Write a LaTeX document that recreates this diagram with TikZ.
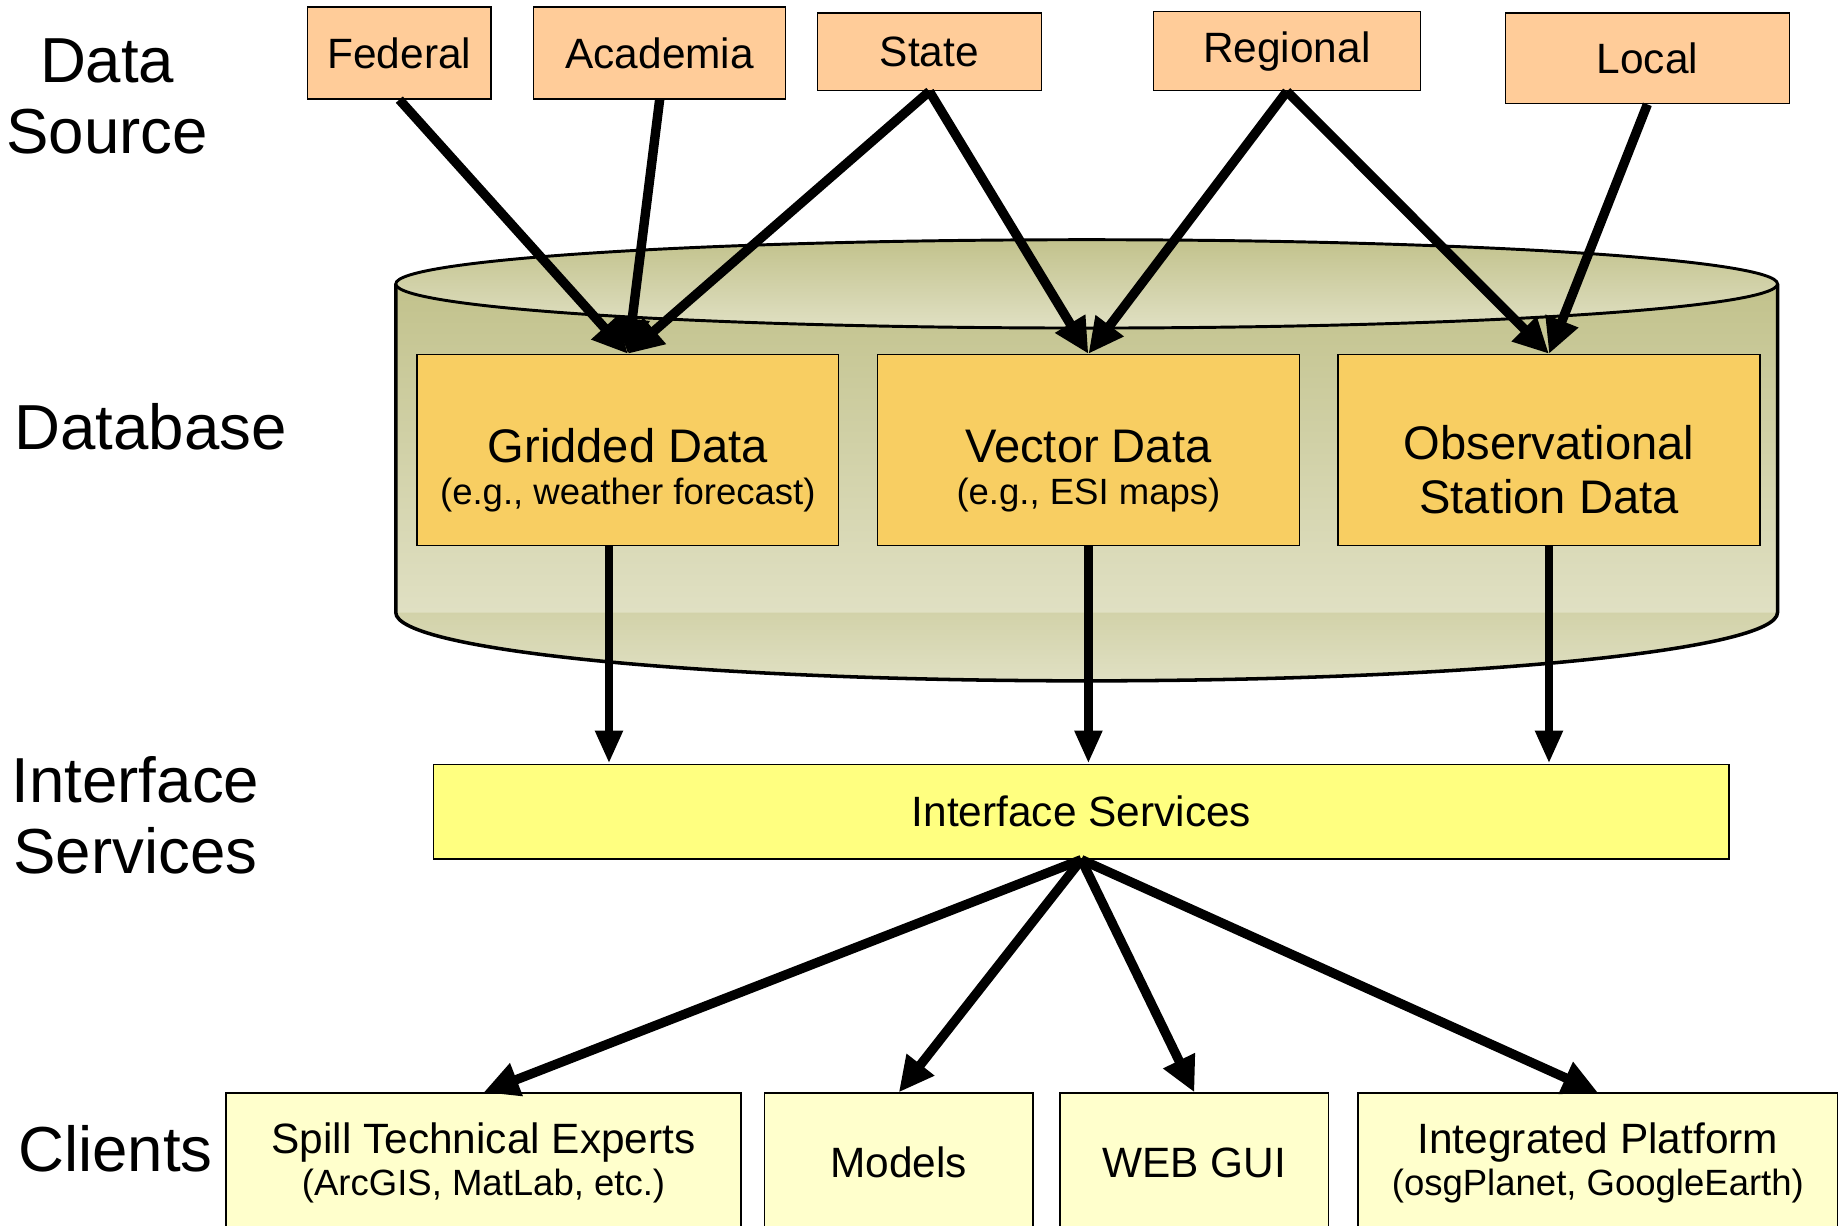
\documentclass[tikz,border=0pt]{standalone}
\usepackage{fontspec}
\setmainfont{Liberation Sans}
\usetikzlibrary{arrows.meta}

\definecolor{srcfill}{HTML}{FFCC99}
\definecolor{datafill}{HTML}{F8CE62}
\definecolor{ifacefill}{HTML}{FFFF80}
\definecolor{clientfill}{HTML}{FFFFCC}
\definecolor{cyldark}{HTML}{C2C28C}
\definecolor{cyllight}{HTML}{E0E0C3}
\definecolor{cylband}{HTML}{D2D2A9}

\newcommand{\bigfont}{\fontsize{54}{60}\selectfont}
\newcommand{\midfont}{\fontsize{40}{46}\selectfont}
\newcommand{\boxfont}{\fontsize{36}{40}\selectfont}
\newcommand{\smallfont}{\fontsize{31}{36}\selectfont}
% invisible strut that pushes the text block of a data store down
\newcommand{\lowerstrut}{\rule{0pt}{63pt}}

\begin{document}
\begin{tikzpicture}[x=1pt,y=-1pt,
  tier/.style={inner sep=0pt, align=center, font=\bigfont},
  srcbox/.style={draw=black, line width=1.2pt, fill=srcfill, inner sep=0pt, font=\boxfont},
  databox/.style={draw=black, line width=1.2pt, fill=datafill, inner sep=0pt,
    minimum width=358pt, minimum height=162pt, align=center, font=\smallfont},
  ifacebox/.style={draw=black, line width=1.6pt, fill=ifacefill, inner sep=0pt,
    minimum width=1100pt, minimum height=80pt, font=\boxfont},
  clientbox/.style={draw=black, line width=1.2pt, fill=clientfill, inner sep=0pt,
    minimum height=118pt, align=center, font=\smallfont},
  feed/.style={line width=8pt, -{Triangle[length=30pt,width=28pt]}},
  drop/.style={line width=7pt, -{Triangle[length=28pt,width=22pt]}},
]
\useasboundingbox (0,0) rectangle (1568,1040);
\clip (0,0) rectangle (1568,1040);

% tier labels
\node[tier] (lblsrc) at (91,82) {Data\\Source};
\node[tier] (lbldb) at (128,362) {Database};
\node[tier] (lblif) at (115,692) {Interface\\Services};
\node[tier] (lblcl) at (98,975) {Clients};

% database cylinder
\shade[top color=cyldark, bottom color=cyllight]
  (336,241) -- (336,520) -- (1509,520) -- (1509,241) -- cycle;
\shade[top color=cylband, bottom color=cyllight]
  (336,520) arc[start angle=180, end angle=0, x radius=586.5, y radius=58] -- cycle;
\draw[line width=3pt]
  (336,241) -- (336,520) arc[start angle=180, end angle=0, x radius=586.5, y radius=58] -- (1509,241);
\shade[top color=cyldark, bottom color=cyllight, draw=black, line width=2.5pt]
  (922.5,241) ellipse[x radius=586.5, y radius=37.5];

% data sources
\node[srcbox, minimum width=156pt, minimum height=78pt] (fed) at (339,45) {Federal};
\node[srcbox, minimum width=214pt, minimum height=78pt] (acad) at (560,45) {Academia};
\node[srcbox, minimum width=190pt, minimum height=66pt] (state) at (789,44) {State};
\node[srcbox, minimum width=227pt, minimum height=67pt] (reg) at (1092.5,43.5) {Regional};
\node[srcbox, minimum width=241pt, minimum height=77pt] (loc) at (1398.5,49.5) {Local};

% data stores
\node[databox] (grid) at (533,382)
  {{\midfont\lowerstrut Gridded Data}\\(e.g., weather forecast)};
\node[databox] (vect) at (924,382)
  {{\midfont\lowerstrut Vector Data}\\(e.g., ESI maps)};
\node[databox, font=\midfont] (obs) at (1315,382)
  {\lowerstrut Observational\\Station Data};

% interface layer
\node[ifacebox] (iface) at (918,689) {Interface Services};

% clients
\node[clientbox, minimum width=437pt] (spill) at (410.5,987)
  {{\boxfont Spill Technical Experts}\\(ArcGIS, MatLab, etc.)};
\node[clientbox, minimum width=228pt, font=\boxfont] (models) at (763,987) {Models};
\node[clientbox, minimum width=228pt, font=\boxfont] (webgui) at (1014,987) {WEB GUI};
\node[clientbox, minimum width=407pt] (integ) at (1356.5,987)
  {{\boxfont Integrated Platform}\\(osgPlanet, GoogleEarth)};

% feeds into the database
\draw[feed] (fed.south) -- (grid.north);
\draw[feed] (acad.south) -- (grid.north);
\draw[feed] (state.south) -- (grid.north);
\draw[feed] (state.south) -- (vect.north);
\draw[feed] (reg.south) -- (vect.north);
\draw[feed] (reg.south) -- (obs.north);
\draw[feed] (loc.south) -- (obs.north);

% database to interface services
\coordinate (gridout) at ([xshift=-16pt]grid.south);
\draw[drop] (gridout) -- (gridout |- iface.north);
\draw[drop] (vect.south) -- (vect.south |- iface.north);
\draw[drop] (obs.south) -- (obs.south |- iface.north);

% interface services to clients
\draw[feed] (iface.south) -- (spill.north);
\draw[feed] (iface.south) -- (models.north);
\draw[feed] (iface.south) -- (webgui.north);
\draw[feed] (iface.south) -- (integ.north);
\end{tikzpicture}
\end{document}
